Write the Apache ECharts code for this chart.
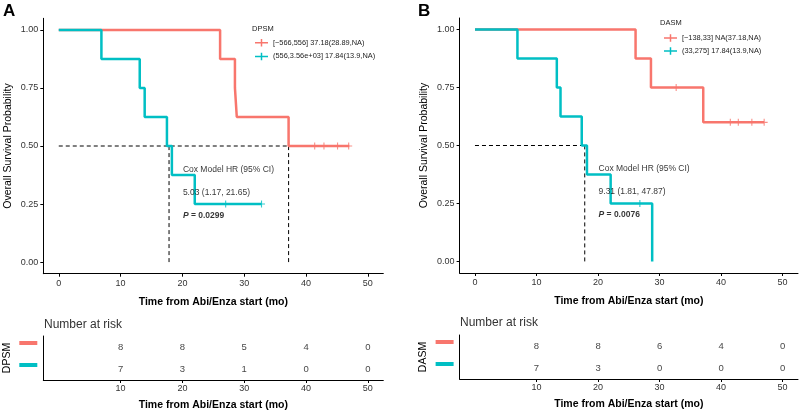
<!DOCTYPE html>
<html><head><meta charset="utf-8">
<script src="https://cdn.jsdelivr.net/npm/echarts@6/dist/echarts.min.js"></script>
<style>html,body{margin:0;padding:0;background:#fff}#c{width:800px;height:412px}</style>
</head><body><div id="c"></div>
<script>
// ---------- DATA ----------
const RED = '#F8766D', CYAN = '#00BFC4';
// Panel A (DPSM)
const A_redName = '[\u2212566,556] 37.18(28.89,NA)';
const A_cyanName = '(556,3.56e+03] 17.84(13.9,NA)';
const A_redTime = [0, 26.1, 28.5, 28.8, 37.18, 47.0];
const A_redSurv = [1, 0.875, 0.75, 0.625, 0.5, 0.5];
const A_redCensT = [41.4, 42.9, 45.1, 46.9];
const A_redCensS = [0.5, 0.5, 0.5, 0.5];
const A_cyanTime = [0, 6.9, 13.1, 13.9, 17.5, 18.3, 22.0, 32.8];
const A_cyanSurv = [1, 0.875, 0.75, 0.625, 0.5, 0.375, 0.25, 0.25];
const A_cyanCensT = [27.0, 32.8];
const A_cyanCensS = [0.25, 0.25];
const A_medians = [37.18, 17.84];
const A_annot = ['Cox Model HR (95% CI)', '5.03 (1.17, 21.65)', '0.0299'];
const A_riskRed = [8, 8, 5, 4, 0];
const A_riskCyan = [7, 3, 1, 0, 0];
// Panel B (DASM)
const B_redName = '[\u2212138,33] NA(37.18,NA)';
const B_cyanName = '(33,275] 17.84(13.9,NA)';
const B_redTime = [0, 26.1, 28.6, 37.1, 47.0];
const B_redSurv = [1, 0.875, 0.75, 0.6, 0.6];
const B_redCensT = [32.7, 41.5, 42.8, 45.0, 47.0];
const B_redCensS = [0.75, 0.6, 0.6, 0.6, 0.6];
const B_cyanTime = [0, 6.9, 13.3, 13.9, 17.35, 18.2, 22.05, 28.8];
const B_cyanSurv = [1, 0.875, 0.75, 0.625, 0.5, 0.375, 0.25, 0];
const B_cyanCensT = [26.8];
const B_cyanCensS = [0.25];
const B_medians = [17.84];
const B_annot = ['Cox Model HR (95% CI)', '9.31 (1.81, 47.87)', '0.0076'];
const B_riskRed = [8, 8, 6, 4, 0];
const B_riskCyan = [7, 3, 0, 0, 0];
// Axes
const xTicks = [0, 10, 20, 30, 40, 50];
const riskTicks = [10, 20, 30, 40, 50];
const yTicks = [0, 0.25, 0.5, 0.75, 1];
const annotX = 20, annotY = [0.4, 0.3, 0.2];
const xTitle = 'Time from Abi/Enza start (mo)';
const yTitle = 'Overall Survival Probability';

// ---------- BUILD ----------
const FONT = "'Liberation Sans', Arial, sans-serif";
const zip = (a, b) => a.map((v, i) => [v, b[i]]);
const PLUS = 'path://M0,4.2H10V5.8H0Z M4.2,0H5.8V10H4.2Z';
const LEGICON = 'path://M0,4.2H14V5.8H0Z M6.2,1H7.8V9H6.2Z';

const grids = [
  {left: 43.3, top: 18.3, width: 340, height: 255.4},
  {left: 43.3, top: 336, width: 340, height: 44},
  {left: 459.6, top: 18, width: 338.4, height: 255},
  {left: 459.6, top: 335, width: 338.4, height: 44}
];
const axLine = {show: true, onZero: false, lineStyle: {color: '#000', width: 1}};
function mainX(gi) {
  return {gridIndex: gi, type: 'value', min: -2.5, max: 52.5, axisLine: axLine,
    axisTick: {show: true, customValues: xTicks, length: 3, lineStyle: {color: '#000'}},
    axisLabel: {customValues: xTicks, margin: 5, fontSize: 9, color: '#333', fontFamily: FONT},
    splitLine: {show: false},
    name: xTitle, nameLocation: 'middle', nameGap: 23,
    nameTextStyle: {fontSize: 10.5, fontWeight: 'bold', color: '#000', fontFamily: FONT}};
}
function riskX(gi) {
  return {gridIndex: gi, type: 'value', min: -2.5, max: 52.5, axisLine: axLine,
    axisTick: {show: true, customValues: riskTicks, length: 3, lineStyle: {color: '#000'}},
    axisLabel: {customValues: riskTicks, margin: 4, fontSize: 9, color: '#333', fontFamily: FONT},
    splitLine: {show: false},
    name: xTitle, nameLocation: 'middle', nameGap: 20,
    nameTextStyle: {fontSize: 10.5, fontWeight: 'bold', color: '#000', fontFamily: FONT}};
}
function mainY(gi) {
  return {gridIndex: gi, type: 'value', min: -0.05, max: 1.05, axisLine: axLine,
    axisTick: {show: true, customValues: yTicks, length: 3, lineStyle: {color: '#000'}},
    axisLabel: {customValues: yTicks, margin: 5, fontSize: 9, color: '#333', fontFamily: FONT,
      formatter: v => Number(v).toFixed(2)},
    splitLine: {show: false},
    name: yTitle, nameLocation: 'middle', nameGap: 30, nameRotate: 90,
    nameTextStyle: {fontSize: 10.5, color: '#000', fontFamily: FONT}};
}
function riskY(gi, nm) {
  return {gridIndex: gi, type: 'category', data: ['r1', 'r2'], inverse: true,
    axisLine: axLine, axisTick: {show: false},
    axisLabel: {margin: 6, formatter: (v, i) => (i === 0 ? '{r|}' : '{c|}') + '\n{s|}',
      rich: {r: {width: 18, height: 4, backgroundColor: RED}, c: {width: 18, height: 4, backgroundColor: CYAN},
             s: {width: 18, height: 8}}},
    name: nm, nameLocation: 'middle', nameGap: 31, nameRotate: 90,
    nameTextStyle: {fontSize: 10.5, color: '#000', fontFamily: FONT}};
}

const series = [];
function panel(gm, gr, P) {
  const xm = gm, ym = gm, xr = gr, yr = gr;
  series.push({type: 'line', name: P.redName, xAxisIndex: xm, yAxisIndex: ym, step: 'end',
    data: zip(P.redTime, P.redSurv), showSymbol: false, symbol: 'none', color: RED,
    lineStyle: {width: 2.5, color: RED}, z: 3});
  series.push({type: 'line', name: P.cyanName, xAxisIndex: xm, yAxisIndex: ym, step: 'end',
    data: zip(P.cyanTime, P.cyanSurv), showSymbol: false, symbol: 'none', color: CYAN,
    lineStyle: {width: 2.5, color: CYAN}, z: 3});
  series.push({type: 'scatter', xAxisIndex: xm, yAxisIndex: ym, symbol: PLUS, symbolSize: 7,
    data: zip(P.redCensT, P.redCensS), itemStyle: {color: RED}, z: 4});
  series.push({type: 'scatter', xAxisIndex: xm, yAxisIndex: ym, symbol: PLUS, symbolSize: 7,
    data: zip(P.cyanCensT, P.cyanCensS), itemStyle: {color: CYAN}, z: 4});
  // median dashed lines
  const dash = {type: 'line', xAxisIndex: xm, yAxisIndex: ym, symbol: 'none', silent: true,
    lineStyle: {color: '#000', width: 1, type: [4, 3]}, z: 2};
  series.push({...dash, data: [[0, 0.5], [Math.max(...P.medians), 0.5]]});
  P.medians.forEach(m => series.push({...dash, data: [[m, 0], [m, 0.5]]}));
  // annotations
  series.push({type: 'scatter', xAxisIndex: xm, yAxisIndex: ym, symbolSize: 1, silent: true,
    itemStyle: {color: 'rgba(0,0,0,0)'}, z: 5,
    data: annotY.map((y, i) => ({value: [annotX, y], idx: i})),
    label: {show: true, position: 'right', distance: 0, fontSize: 8.5, color: '#000', fontFamily: FONT,
      formatter: p => p.dataIndex === 2 ? '{i|P}{b| = ' + P.annot[2] + '}' : P.annot[p.dataIndex],
      rich: {i: {fontStyle: 'italic', fontWeight: 'bold', fontSize: 8.5, color: '#000', fontFamily: FONT},
             b: {fontWeight: 'bold', fontSize: 8.5, color: '#000', fontFamily: FONT}}}});
  // risk table
  const riskData = [];
  riskTicks.forEach((t, i) => { riskData.push([t, 'r1', P.riskRed[i]]); riskData.push([t, 'r2', P.riskCyan[i]]); });
  series.push({type: 'scatter', xAxisIndex: xr, yAxisIndex: yr, symbolSize: 1, silent: true,
    itemStyle: {color: 'rgba(0,0,0,0)'}, data: riskData,
    label: {show: true, position: 'inside', fontSize: 9.5, color: '#111', fontFamily: FONT,
      formatter: p => String(p.value[2])}});
}
panel(0, 1, {redName: A_redName, cyanName: A_cyanName, redTime: A_redTime, redSurv: A_redSurv,
  redCensT: A_redCensT, redCensS: A_redCensS, cyanTime: A_cyanTime, cyanSurv: A_cyanSurv,
  cyanCensT: A_cyanCensT, cyanCensS: A_cyanCensS, medians: A_medians, annot: A_annot,
  riskRed: A_riskRed, riskCyan: A_riskCyan});
panel(2, 3, {redName: B_redName, cyanName: B_cyanName, redTime: B_redTime, redSurv: B_redSurv,
  redCensT: B_redCensT, redCensS: B_redCensS, cyanTime: B_cyanTime, cyanSurv: B_cyanSurv,
  cyanCensT: B_cyanCensT, cyanCensS: B_cyanCensS, medians: B_medians, annot: B_annot,
  riskRed: B_riskRed, riskCyan: B_riskCyan});

const legendBase = {orient: 'vertical', itemWidth: 13, itemHeight: 8, itemGap: 6.3, selectedMode: false, padding: 0,
  textStyle: {fontSize: 7.4, color: '#222', fontFamily: FONT}};
const txt = (x, y, s, size, weight, extra) => ({type: 'text', left: x, top: y,
  style: Object.assign({text: s, fontSize: size, fontWeight: weight || 'normal', fill: '#000', fontFamily: FONT}, extra || {})});

const chart = echarts.init(document.getElementById('c'), null, {renderer: 'canvas'});
chart.setOption({
  animation: false,
  backgroundColor: '#fff',
  textStyle: {fontFamily: FONT},
  grid: grids,
  xAxis: [mainX(0), riskX(1), mainX(2), riskX(3)],
  yAxis: [mainY(0), riskY(1, 'DPSM'), mainY(2), riskY(3, 'DASM')],
  legend: [
    Object.assign({left: 255, top: 39, data: [{name: A_redName, icon: LEGICON}, {name: A_cyanName, icon: LEGICON}]}, legendBase),
    Object.assign({left: 664, top: 34.3, data: [{name: B_redName, icon: LEGICON}, {name: B_cyanName, icon: LEGICON}]}, Object.assign({}, legendBase, {itemGap: 5.6}))
  ],
  graphic: [
    txt(3, 3, 'A', 17, 'bold'),
    txt(418, 3, 'B', 17, 'bold'),
    txt(252, 25, 'DPSM', 7.5, 'normal', {fill: '#222'}),
    txt(660, 19, 'DASM', 7.5, 'normal', {fill: '#222'}),
    txt(44, 318.5, 'Number at risk', 12, 'normal', {fill: '#333'}),
    txt(460, 317, 'Number at risk', 12, 'normal', {fill: '#333'})
  ],
  series: series
});
</script></body></html>
